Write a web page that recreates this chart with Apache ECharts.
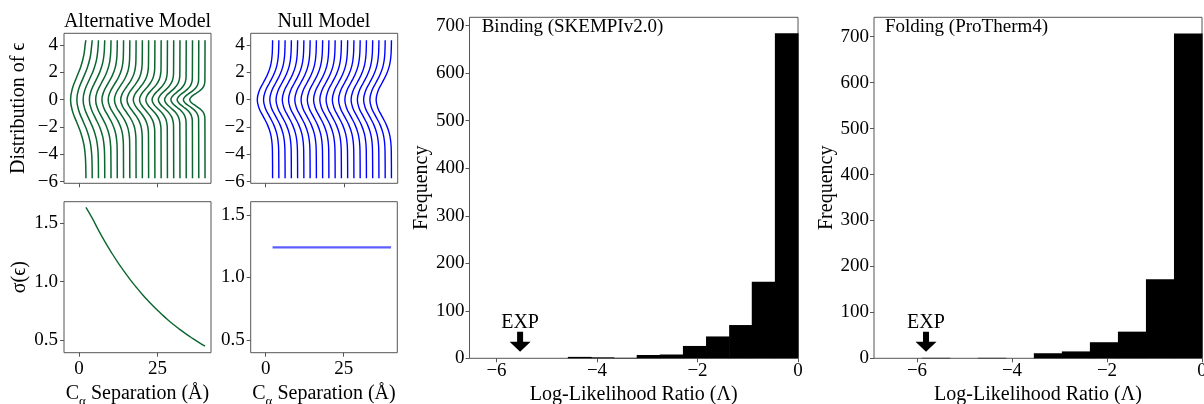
<!DOCTYPE html>
<html><head><meta charset="utf-8">
<script src="https://cdn.jsdelivr.net/npm/echarts@6/dist/echarts.min.js"></script>
<style>html,body{margin:0;padding:0;background:#fff}#c{width:1204px;height:404px}</style>
</head><body><div id="c"></div>
<script>
// ---------------- data ----------------
// base positions of the 20 distribution lines (C-alpha separation, Å)
const lineX = [2.2, 4.2, 6.2, 8.2, 10.2, 12.2, 14.2, 16.2, 18.2, 20.2,
               22.2, 24.2, 26.2, 28.2, 30.2, 32.2, 34.2, 36.2, 38.2, 40.2];
// sigma(eps) of the alternative model at those separations
const altSigma = [1.637, 1.544, 1.441, 1.345, 1.256, 1.172, 1.095, 1.022, 0.954, 0.890,
                  0.831, 0.776, 0.725, 0.676, 0.631, 0.589, 0.550, 0.514, 0.480, 0.448];
// sigma(eps) of the null model (constant)
const nullSigma = 1.24;
// depth of the bump of every distribution line (x units) and its vertical extent
const bumpDepth = 4.9;
const lineTopY = 4.35;
const lineBottomY = -5.75;
// bump profile: offsets (fraction of depth) at multiples of sigma
const profileK = [3, 2.5, 2, 1.5, 1, 0.5, 0, -0.5, -1, -1.5, -2, -2.5, -3];
const profileDepth = [0.011, 0.044, 0.135, 0.325, 0.607, 0.882, 1, 0.882, 0.607, 0.325, 0.135, 0.044, 0.011];

// histograms
const bindingEdges = [-5.50, -5.04, -4.58, -4.12, -3.67, -3.21, -2.75, -2.29, -1.83, -1.37, -0.92, -0.46, 0];
const bindingCounts = [0, 0, 3, 2, 1, 7, 8, 26, 46, 70, 161, 684];
const foldingEdges = [-5.90, -5.31, -4.72, -4.13, -3.54, -2.95, -2.36, -1.77, -1.18, -0.59, 0];
const foldingCounts = [1, 0, 1, 0, 11, 15, 35, 58, 172, 707];
const bindingExp = -5.53;
const foldingExp = -5.81;

// tick labels
const separationTicks = [0, 25];
const epsTicks = [-6, -4, -2, 0, 2, 4];
const sigmaTicks = [0.5, 1.0, 1.5];
const llrTicks = [-6, -4, -2, 0];
const freqTicks = [0, 100, 200, 300, 400, 500, 600, 700];

// ---------------- chart ----------------
const FONT = 'Liberation Serif';
const FRAME = '#555';
const GREEN = '#0b6630';
const BLUE = '#0000ff';
const minus = v => (v < 0 ? '\u2212' + String(-v) : String(v));

function grid(left, top, width, height) {
  return { left, top, width, height, show: true, borderColor: FRAME, borderWidth: 1, backgroundColor: 'transparent',
    containLabel: false, outerBoundsMode: 'none' };
}
function axis(gi, min, max, ticks, showLabels, fmt, margin, extra) {
  return Object.assign({
    type: 'value', gridIndex: gi, min, max,
    axisLine: { show: false, onZero: false },
    axisTick: { show: true, customValues: ticks, length: 4, lineStyle: { color: FRAME, width: 1 } },
    axisLabel: { show: showLabels, customValues: ticks, formatter: fmt, fontFamily: FONT, fontSize: 19, color: '#000', margin },
    splitLine: { show: false }
  }, extra || {});
}

function distLine(base, sigma) {
  const pts = [[base, lineTopY]];
  profileK.forEach((k, j) => {
    const y = k * sigma;
    if (y < lineTopY && y > lineBottomY) pts.push([base - bumpDepth * profileDepth[j], y]);
  });
  pts.push([base, lineBottomY]);
  return pts;
}

const series = [];
lineX.forEach((x, i) => {
  series.push({ type: 'line', xAxisIndex: 0, yAxisIndex: 0, data: distLine(x, altSigma[i]), smooth: 0.45,
    symbol: 'none', silent: true, lineStyle: { color: GREEN, width: 1.5 } });
  series.push({ type: 'line', xAxisIndex: 1, yAxisIndex: 1, data: distLine(x, nullSigma), smooth: 0.45,
    symbol: 'none', silent: true, lineStyle: { color: BLUE, width: 1.4 } });
});
series.push({ type: 'line', xAxisIndex: 2, yAxisIndex: 2, data: lineX.map((x, i) => [x, altSigma[i]]), smooth: 0.5,
  symbol: 'none', silent: true, lineStyle: { color: GREEN, width: 1.4 } });
series.push({ type: 'line', xAxisIndex: 3, yAxisIndex: 3, data: lineX.map(x => [x, nullSigma]),
  symbol: 'none', silent: true, lineStyle: { color: 'rgba(40,40,255,0.75)', width: 2.2 } });

function histData(edges, counts) {
  return counts.map((c, i) => [edges[i], edges[i + 1], c]);
}
function histRender(params, api) {
  const p0 = api.coord([api.value(0), api.value(2)]);
  const p1 = api.coord([api.value(1), 0]);
  return { type: 'rect', shape: { x: p0[0], y: p0[1], width: p1[0] - p0[0] + 0.6, height: p1[1] - p0[1] },
    style: { fill: '#000' } };
}
function arrowRender(params, api) {
  const b = api.coord([api.value(0), 0]);
  const tip = b[1] - 6.5, tail = tip - 20, mid = tip - 10;
  const cx = b[0], sw = 3, hw = 10.5;
  return { type: 'group', children: [
    { type: 'polygon', shape: { points: [[cx - sw, tail], [cx + sw, tail], [cx + sw, mid], [cx + hw, mid], [cx, tip], [cx - hw, mid], [cx - sw, mid]] },
      style: { fill: '#000' } },
    { type: 'text', x: cx, y: tail - 9, style: { text: 'EXP', fontFamily: FONT, fontSize: 20, fill: '#000', align: 'center', verticalAlign: 'middle' } }
  ] };
}
series.push({ type: 'custom', xAxisIndex: 4, yAxisIndex: 4, data: histData(bindingEdges, bindingCounts), renderItem: histRender, silent: true });
series.push({ type: 'custom', xAxisIndex: 5, yAxisIndex: 5, data: histData(foldingEdges, foldingCounts), renderItem: histRender, silent: true });
series.push({ type: 'custom', xAxisIndex: 4, yAxisIndex: 4, data: [[bindingExp]], renderItem: arrowRender, silent: true, clip: false });
series.push({ type: 'custom', xAxisIndex: 5, yAxisIndex: 5, data: [[foldingExp]], renderItem: arrowRender, silent: true, clip: false });

const nameStyle = { fontFamily: FONT, fontSize: 20, color: '#000' };
const sepName = {
  name: 'C{sub|\u03b1} Separation (\u00c5)', nameLocation: 'middle', nameGap: 25,
  nameTextStyle: Object.assign({}, nameStyle, { lineHeight: 28, rich: { sub: { fontFamily: FONT, fontSize: 13, lineHeight: 12, verticalAlign: 'bottom' } } })
};

const option = {
  animation: false,
  backgroundColor: '#fff',
  grid: [
    grid(64, 33.3, 147, 150),
    grid(250.7, 33.3, 147, 150),
    grid(64, 201.7, 147, 151),
    grid(250.7, 201.7, 146.6, 151),
    grid(469.5, 17.3, 328.5, 341),
    grid(874, 17.3, 328, 341)
  ],
  xAxis: [
    axis(0, -4.8, 42.1, separationTicks, false, minus, 7),
    axis(1, -4.8, 42.2, separationTicks, false, minus, 7),
    axis(2, -4.8, 42.1, separationTicks, true, minus, 7, sepName),
    axis(3, -4.8, 42.2, separationTicks, true, minus, 7, sepName),
    axis(4, -6.537, 0, llrTicks, true, minus, 3, { name: 'Log-Likelihood Ratio (\u039b)', nameLocation: 'middle', nameGap: 26, nameTextStyle: nameStyle }),
    axis(5, -6.905, 0, llrTicks, true, minus, 3, { name: 'Log-Likelihood Ratio (\u039b)', nameLocation: 'middle', nameGap: 26, nameTextStyle: nameStyle })
  ],
  yAxis: [
    axis(0, -6.12, 4.86, epsTicks, true, minus, 6, { name: 'Distribution of \u03f5', nameLocation: 'middle', nameGap: 35, nameTextStyle: nameStyle }),
    axis(1, -6.12, 4.86, epsTicks, true, minus, 6),
    axis(2, 0.391, 1.685, sigmaTicks, true, v => v.toFixed(1), 6, { name: '\u03c3(\u03f5)', nameLocation: 'middle', nameGap: 34, nameTextStyle: nameStyle }),
    axis(3, 0.398, 1.606, sigmaTicks, true, v => v.toFixed(1), 6),
    axis(4, 0, 717.7, freqTicks, true, v => String(v), 5, { name: 'Frequency', nameLocation: 'middle', nameGap: 36, nameTextStyle: nameStyle }),
    axis(5, 0, 742.2, freqTicks, true, v => String(v), 5, { name: 'Frequency', nameLocation: 'middle', nameGap: 37, nameTextStyle: nameStyle })
  ],
  graphic: [
    { type: 'text', x: 137.5, y: 22, style: { text: 'Alternative Model', fontFamily: FONT, fontSize: 20, fill: '#000', align: 'center', verticalAlign: 'middle' } },
    { type: 'text', x: 324, y: 22, style: { text: 'Null Model', fontFamily: FONT, fontSize: 20, fill: '#000', align: 'center', verticalAlign: 'middle' } },
    { type: 'text', x: 481.7, y: 27, style: { text: 'Binding (SKEMPIv2.0)', fontFamily: FONT, fontSize: 19, fill: '#000', align: 'left', verticalAlign: 'middle' } },
    { type: 'text', x: 885, y: 27, style: { text: 'Folding (ProTherm4)', fontFamily: FONT, fontSize: 19, fill: '#000', align: 'left', verticalAlign: 'middle' } }
  ],
  series
};
const chart = echarts.init(document.getElementById('c'), null, { renderer: 'canvas' });
chart.setOption(option);
</script>
</body></html>
